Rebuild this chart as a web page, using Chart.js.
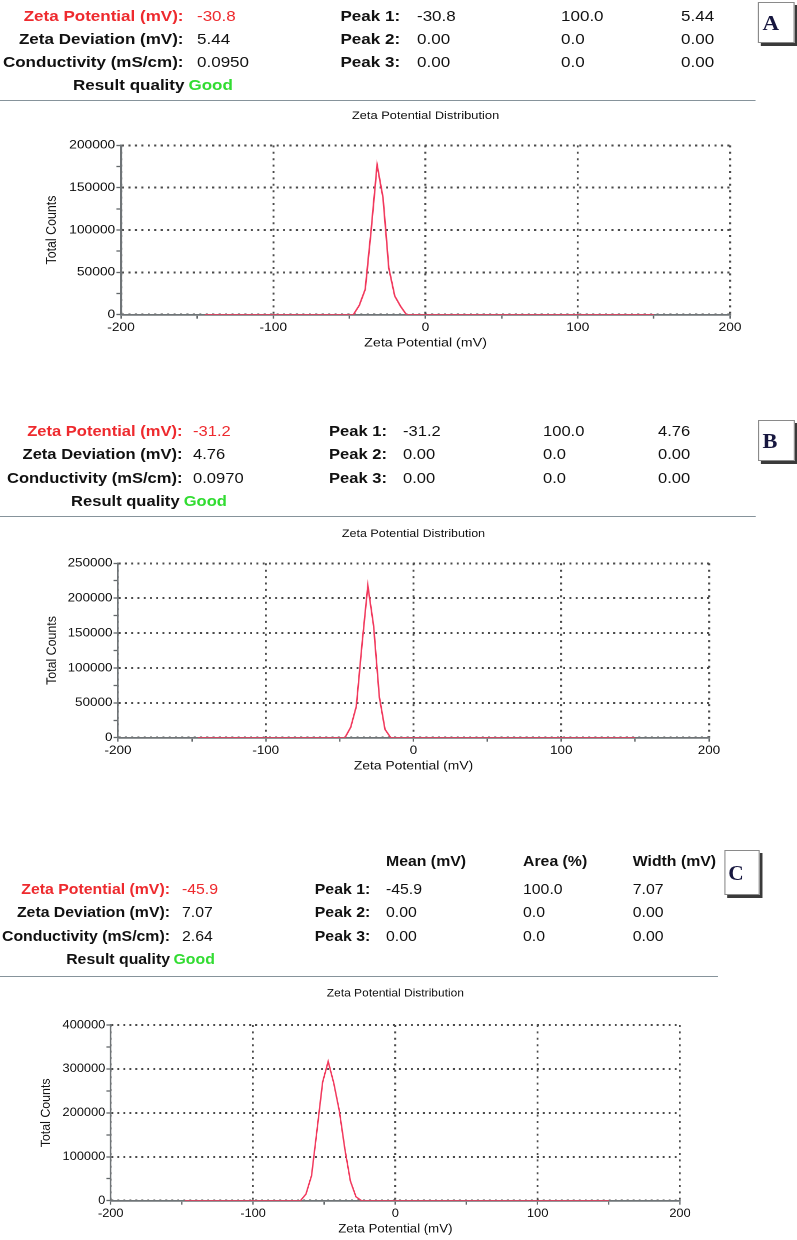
<!DOCTYPE html>
<html>
<head>
<meta charset="utf-8">
<script src="https://cdn.jsdelivr.net/npm/chart.js@4.4.1/dist/chart.umd.min.js"></script>
<style>
  html, body { margin: 0; padding: 0; background: #fff; }
  body { width: 797px; height: 1240px; overflow: hidden; position: relative; }
  .panel { position: absolute; left: 0; top: 0; height: 1240px; transform-origin: 0 0;
           font-family: "Liberation Sans", Arial, sans-serif; pointer-events: none; }
  .t { position: absolute; white-space: nowrap; height: 18px; line-height: 18px;
       font-size: 14.8px; color: #111; }
  .b { font-weight: bold; }
  .red { color: #ee2a2e; }
  .green { color: #32dc32; }
  .rule { position: absolute; left: 0; height: 1.5px; background: #86939b; }
  .box { position: absolute; box-sizing: border-box; background: #fff;
         border: 1px solid #8a8a8a; box-shadow: 2.6px 3px 0 #3a3a3a; }
  .box span { position: absolute; left: 3px; top: 50%; transform: translateY(-50%);
              font-family: "Liberation Serif", "DejaVu Serif", serif; font-weight: bold;
              font-size: 20px; color: #17173f; }
  canvas { position: absolute; left: 0; }
</style>
</head>
<body>
<script>
// ---------------- data ----------------
const summaryLabels = ['Zeta Potential (mV):', 'Zeta Deviation (mV):', 'Conductivity (mS/cm):'];
const qualityLabel = 'Result quality';
const qualityText = 'Good';
const peakLabels = ['Peak 1:', 'Peak 2:', 'Peak 3:'];
const peakHeaders = ['Mean (mV)', 'Area (%)', 'Width (mV)'];
const panelLetters = ['A', 'B', 'C'];

const summaryA = ['-30.8', '5.44', '0.0950'];
const summaryB = ['-31.2', '4.76', '0.0970'];
const summaryC = ['-45.9', '7.07', '2.64'];

const peaksA = [['-30.8', '100.0', '5.44'], ['0.00', '0.0', '0.00'], ['0.00', '0.0', '0.00']];
const peaksB = [['-31.2', '100.0', '4.76'], ['0.00', '0.0', '0.00'], ['0.00', '0.0', '0.00']];
const peaksC = [['-45.9', '100.0', '7.07'], ['0.00', '0.0', '0.00'], ['0.00', '0.0', '0.00']];

const chartTitle = 'Zeta Potential Distribution';
const xTitle = 'Zeta Potential (mV)';
const yTitle = 'Total Counts';

const xTickLabels = [-200, -100, 0, 100, 200];
const yTickLabelsA = [0, 50000, 100000, 150000, 200000];
const yTickLabelsB = [0, 50000, 100000, 150000, 200000, 250000];
const yTickLabelsC = [0, 100000, 200000, 300000, 400000];

const zetaA   = [-145, -47.4, -43.5, -39.6, -35.7, -31.8, -27.9, -24.1, -20.2, -16.4, -12.5, 150];
const countsA = [0, 0, 11000, 30000, 100000, 177000, 138000, 55000, 22000, 10000, 0, 0];

const zetaB   = [-146, -46.4, -42.5, -38.7, -34.8, -30.9, -27.0, -23.1, -19.3, -15.4, 150];
const countsB = [0, 0, 15000, 45000, 135000, 218000, 160000, 58000, 12000, 0, 0];

const zetaC   = [-148, -66.7, -62.8, -58.9, -55.0, -51.1, -47.2, -43.3, -39.4, -35.5, -31.6, -27.7, -23.8, 150];
const countsC = [0, 0, 15000, 57000, 162000, 270000, 317000, 268000, 205000, 118000, 45000, 9000, 0, 0];

// ---------------- layout (real page pixels) ----------------
const FONT = '"Liberation Sans", Arial, sans-serif';
const layoutA = { sx: 1.15, rows: [15.5, 38.5, 61.5, 84.5], labelRight: 183.5, valueLeft: 197, qualRight: 184.5, goodLeft: 188.5,
  peakLeft: 340.5, cols: [417, 561, 681], lineY: 100.5, lineRight: 756, box: { x: 758, y: 2, w: 37, h: 41 },
  canvasTop: 104, canvasH: 256, plotL: 121, plotR: 730, plotT: 145.4, plotB: 314.7, titleY: 115.7, yTitleX: 52 };
const layoutB = { sx: 1.118, rows: [430.7, 454, 477.7, 500.7], labelRight: 182.5, valueLeft: 193, qualRight: 179.6, goodLeft: 183.7,
  peakLeft: 329, cols: [403, 543, 658], lineY: 516.7, lineRight: 756, box: { x: 758, y: 420, w: 37, h: 41 },
  canvasTop: 520, canvasH: 262, plotL: 118, plotR: 709, plotT: 563.3, plotB: 737.7, titleY: 534, yTitleX: 52 };
const layoutC = { sx: 1.07, rows: [888.5, 912, 935.5, 959], headerY: 861, labelRight: 170, valueLeft: 182, qualRight: 170, goodLeft: 173.5,
  peakLeft: 314.8, cols: [386, 523, 632.7], lineY: 976.7, lineRight: 718, box: { x: 724, y: 850, w: 36, h: 45 },
  canvasTop: 980, canvasH: 260, plotL: 110.7, plotR: 680, plotT: 1025, plotB: 1200.7, titleY: 993.3, yTitleX: 46 };

function makePanel(L, summary, peaks, letter, withHead, xs, ys, yLabels) {
  const sx = L.sx;
  const W = Math.round(797 / sx);
  const wrap = document.createElement('div');
  wrap.className = 'panel';
  wrap.style.width = W + 'px';
  wrap.style.transform = 'scaleX(' + sx + ')';
  document.body.appendChild(wrap);

  function txt(s, x, y, cls, align) {
    const d = document.createElement('div');
    d.className = 't ' + (cls || '');
    d.textContent = s;
    d.style.top = (y - 9) + 'px';
    if (align === 'right') {
      d.style.left = '-100px';
      d.style.width = (x / sx + 100) + 'px';
      d.style.textAlign = 'right';
    } else {
      d.style.left = (x / sx) + 'px';
    }
    wrap.appendChild(d);
  }

  // ---- header block ----
  summaryLabels.forEach((s, i) => {
    txt(s, L.labelRight, L.rows[i], i === 0 ? 'b red' : 'b', 'right');
    txt(summary[i], L.valueLeft, L.rows[i], i === 0 ? 'red' : '');
  });
  txt(qualityLabel, L.qualRight, L.rows[3], 'b', 'right');
  txt(qualityText, L.goodLeft, L.rows[3], 'b green');
  peakLabels.forEach((p, i) => {
    txt(p, L.peakLeft, L.rows[i], 'b');
    peaks[i].forEach((v, j) => txt(v, L.cols[j], L.rows[i], ''));
  });
  if (withHead) peakHeaders.forEach((h, j) => txt(h, L.cols[j], L.headerY, 'b'));

  const r = document.createElement('div');
  r.className = 'rule';
  r.style.top = (L.lineY - 0.75) + 'px';
  r.style.width = (L.lineRight / sx) + 'px';
  wrap.appendChild(r);

  const b = document.createElement('div');
  b.className = 'box';
  b.style.left = (L.box.x / sx) + 'px';
  b.style.top = L.box.y + 'px';
  b.style.width = (L.box.w / sx) + 'px';
  b.style.height = L.box.h + 'px';
  const sp = document.createElement('span');
  sp.textContent = letter;
  b.appendChild(sp);
  wrap.appendChild(b);

  // ---- chart ----
  const H = L.canvasH;
  const c = document.createElement('canvas');
  c.width = W; c.height = H;
  c.style.width = W + 'px'; c.style.height = H + 'px';
  c.style.top = L.canvasTop + 'px';
  wrap.appendChild(c);

  const plotTop = L.plotT - L.canvasTop;
  const plotBot = L.plotB - L.canvasTop;
  const titleFs = 11.2, titleLH = titleFs * 1.2;
  const axisFs = 12.4, axisLH = axisFs * 1.2;
  const tPadTop = (L.titleY - L.canvasTop) - titleLH / 2;
  const tPadBot = plotTop - tPadTop - titleLH;
  const Hx = H - plotBot;
  const xtPadBot = Hx - 28.5 - axisLH / 2;
  const yAxisW = L.plotL / sx;
  const ytPadTop = L.yTitleX / sx - axisLH / 2;

  const xStep = (xTickLabels[1] - xTickLabels[0]) / 2;
  const yStep = (yLabels[1] - yLabels[0]) / 2;
  const dotColor = '#4a4a4a';
  const clear = 'rgba(0,0,0,0)';

  new Chart(c, {
    type: 'line',
    data: {
      datasets: [{
        data: xs.map((x, i) => ({ x: x, y: ys[i] })),
        borderColor: '#f1385c',
        borderWidth: 1.4,
        pointRadius: 0,
        tension: 0,
        fill: false
      }]
    },
    options: {
      responsive: false,
      animation: false,
      devicePixelRatio: 2,
      events: [],
      layout: { padding: { left: 0, right: W - L.plotR / sx, top: 0, bottom: 0 } },
      plugins: {
        legend: { display: false },
        tooltip: { enabled: false },
        title: {
          display: true, text: chartTitle, fullSize: false, color: '#111',
          font: { family: FONT, size: titleFs, weight: 'normal' },
          padding: { top: tPadTop, bottom: tPadBot }
        }
      },
      scales: {
        x: {
          type: 'linear',
          min: xTickLabels[0],
          max: xTickLabels[xTickLabels.length - 1],
          afterFit: s => { s.height = Hx; },
          ticks: {
            stepSize: xStep, autoSkip: false, maxRotation: 0, padding: 2, color: '#111',
            font: { family: FONT, size: 12 },
            callback: v => xTickLabels.includes(v) ? String(v) : ''
          },
          grid: {
            color: ctx => (ctx.tick && xTickLabels.includes(ctx.tick.value)) ? dotColor : clear,
            lineWidth: 1.7, tickLength: 4, tickColor: '#62676a', tickWidth: 1.3, drawTicks: true
          },
          border: { display: true, color: '#6f7477', width: 1.8, dash: [2, 4.4] },
          title: {
            display: true, text: xTitle, color: '#111',
            font: { family: FONT, size: axisFs },
            padding: { top: 0, bottom: xtPadBot }
          }
        },
        y: {
          min: yLabels[0],
          max: yLabels[yLabels.length - 1],
          afterFit: s => { s.width = yAxisW; },
          ticks: {
            stepSize: yStep, autoSkip: false, padding: 1, color: '#111',
            font: { family: FONT, size: 12 },
            callback: v => yLabels.includes(v) ? String(v) : ''
          },
          grid: {
            color: ctx => (ctx.tick && yLabels.includes(ctx.tick.value)) ? dotColor : clear,
            lineWidth: 2, tickLength: 4, tickColor: '#62676a', tickWidth: 1.3, drawTicks: true
          },
          border: { display: true, color: '#6f7477', width: 1.6, dash: [1.8, 3.8] },
          title: {
            display: true, text: yTitle, color: '#111',
            font: { family: FONT, size: axisFs },
            padding: { top: ytPadTop, bottom: 0 }
          }
        }
      }
    }
  });
}

makePanel(layoutA, summaryA, peaksA, panelLetters[0], false, zetaA, countsA, yTickLabelsA);
makePanel(layoutB, summaryB, peaksB, panelLetters[1], false, zetaB, countsB, yTickLabelsB);
makePanel(layoutC, summaryC, peaksC, panelLetters[2], true, zetaC, countsC, yTickLabelsC);
</script>
</body>
</html>
